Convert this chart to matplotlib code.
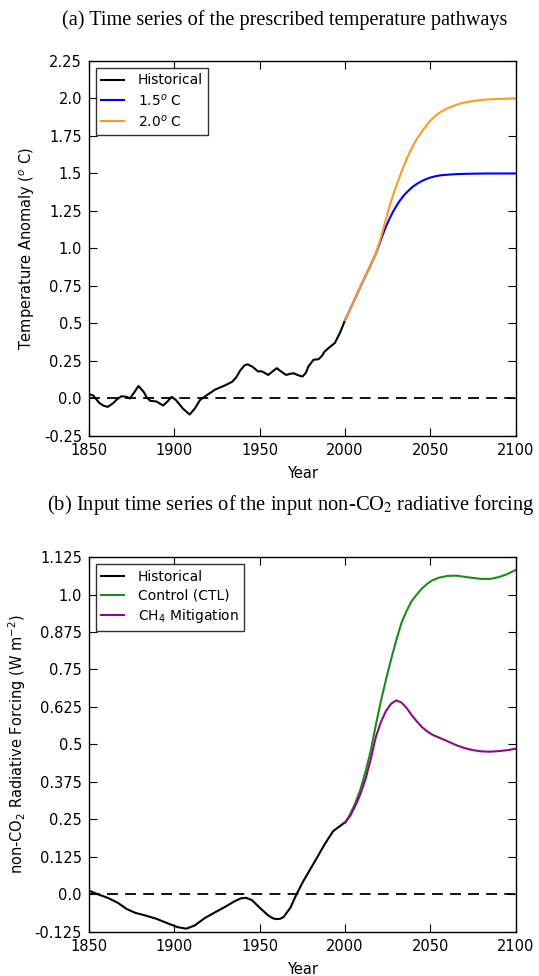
import matplotlib
matplotlib.use('Agg')
from matplotlib import pyplot as plt

# (a) temperature pathways
hist_t_years = [1850, 1852.5, 1856, 1858.5, 1861, 1864, 1866.5, 1869, 1872, 1874, 1876.5, 1879,
                1882, 1884, 1886, 1889.5, 1893.5, 1896, 1898.5, 1901, 1905, 1909, 1912, 1915,
                1919, 1924, 1930, 1934, 1936.5, 1938.5, 1941, 1943, 1946, 1949, 1951, 1953,
                1955, 1957.5, 1960, 1962.5, 1965.5, 1968, 1970, 1972.5, 1975, 1977, 1978.5,
                1981.5, 1984.5, 1986.5, 1988, 1992, 1994, 1997, 2000]
hist_t = [0.029, 0.02, -0.029, -0.048, -0.056, -0.033, -0.005, 0.015, 0.011, 0.0, 0.04, 0.083,
          0.045, 0.005, -0.016, -0.02, -0.047, -0.02, 0.011, -0.011, -0.067, -0.107, -0.067, -0.011,
          0.022, 0.06, 0.089, 0.112, 0.145, 0.185, 0.22, 0.228, 0.21, 0.18, 0.182, 0.17,
          0.157, 0.18, 0.202, 0.18, 0.157, 0.165, 0.168, 0.155, 0.146, 0.17, 0.213,
          0.258, 0.262, 0.285, 0.313, 0.352, 0.37, 0.437, 0.522]

fut_t_years = [2000, 2005, 2010, 2015, 2018, 2020, 2022, 2024, 2026, 2028, 2030, 2032, 2034,
               2036, 2038, 2040, 2042, 2045, 2048, 2050, 2053, 2056, 2060, 2064, 2068, 2072,
               2077, 2083, 2090, 2100]
t_15 = [0.522, 0.645, 0.77, 0.89, 0.965, 1.025, 1.09, 1.147, 1.198, 1.243, 1.283, 1.318, 1.348,
        1.373, 1.395, 1.415, 1.43, 1.45, 1.465, 1.473, 1.482, 1.488, 1.492, 1.495, 1.497, 1.498,
        1.499, 1.5, 1.5, 1.5]
t_20 = [0.522, 0.645, 0.77, 0.89, 0.965, 1.035, 1.115, 1.2, 1.28, 1.352, 1.417, 1.48, 1.54,
        1.596, 1.645, 1.69, 1.73, 1.78, 1.826, 1.853, 1.885, 1.91, 1.935, 1.953, 1.968, 1.978,
        1.987, 1.993, 1.997, 2.0]

# (b) non-CO2 radiative forcing
hist_rf_years = [1850, 1855.5, 1861, 1867, 1872, 1877, 1883, 1889.5, 1896.5, 1902, 1907, 1912,
                 1918, 1924, 1929.5, 1935.5, 1939, 1942, 1945.5, 1950, 1955, 1958, 1960, 1962,
                 1964, 1968, 1971.5, 1975.5, 1979.5, 1983, 1988, 1993, 1997, 2000]
hist_rf = [0.013, 0.0, -0.011, -0.028, -0.048, -0.061, -0.07, -0.081, -0.097, -0.109, -0.114, -0.103,
           -0.078, -0.059, -0.042, -0.022, -0.013, -0.011, -0.019, -0.044, -0.07, -0.08, -0.082, -0.081,
           -0.075, -0.044, 0.0, 0.044, 0.083, 0.117, 0.167, 0.211, 0.228, 0.241]

fut_rf_years = [2000, 2003, 2006, 2009, 2012, 2015, 2018, 2021, 2024, 2027, 2030, 2033, 2036,
                2039, 2042, 2045, 2048, 2051, 2055, 2060, 2065, 2070, 2075, 2080, 2085, 2090,
                2095, 2100]
rf_ctl = [0.239, 0.268, 0.305, 0.35, 0.41, 0.478, 0.565, 0.645, 0.717, 0.785, 0.848, 0.905, 0.945,
          0.978, 1.0, 1.02, 1.035, 1.047, 1.056, 1.062, 1.063, 1.059, 1.055, 1.052, 1.052, 1.058,
          1.068, 1.082]
rf_ch4 = [0.239, 0.262, 0.295, 0.335, 0.385, 0.45, 0.525, 0.575, 0.612, 0.636, 0.647, 0.64, 0.622,
          0.598, 0.577, 0.558, 0.544, 0.533, 0.523, 0.511, 0.498, 0.488, 0.481, 0.477, 0.476, 0.478,
          0.481, 0.486]

x_ticks = [1850, 1900, 1950, 2000, 2050, 2100]
t_ticks = [-0.25, 0.0, 0.25, 0.5, 0.75, 1.0, 1.25, 1.5, 1.75, 2.0, 2.25]
rf_ticks = [-0.125, 0.0, 0.125, 0.25, 0.375, 0.5, 0.625, 0.75, 0.875, 1.0, 1.125]

plt.rcParams['font.family'] = 'DejaVu Sans'
plt.rcParams['mathtext.fontset'] = 'dejavusans'

fig = plt.figure(figsize=(5.39, 9.76), dpi=100)
ax1 = fig.add_axes([0.165, 0.5533, 0.792, 0.3842])
ax2 = fig.add_axes([0.165, 0.0451, 0.792, 0.3842])


def style_axis(ax, yticks, ylabel, label_x):
    ax.set_xlim(1850, 2100)
    ax.set_ylim(yticks[0], yticks[-1])
    ax.set_xticks(x_ticks)
    ax.set_xticklabels([str(v) for v in x_ticks])
    ax.set_yticks(yticks)
    ax.set_yticklabels([str(v) for v in yticks])
    ax.tick_params(direction='in', length=6, width=0.8, top=True, right=True,
                   labelsize=10.5, pad=5)
    for s in ax.spines.values():
        s.set_linewidth(1.0)
    ax.axhline(0, color='black', ls='--', lw=1.3, dashes=(6, 4), zorder=1)
    ax.set_xlabel('Year', fontsize=10.5, labelpad=6)
    ax.set_ylabel(ylabel, fontsize=10.5)
    ax.yaxis.set_label_coords(label_x, 0.5)


ax1.plot(hist_t_years, hist_t, color='black', lw=1.5, label='Historical')
ax1.plot(fut_t_years, t_15, color='#0000ff', lw=1.5, label='1.5$^o$ C')
ax1.plot(fut_t_years, t_20, color='#ff9922', lw=1.5, label='2.0$^o$ C')
style_axis(ax1, t_ticks, 'Temperature Anomaly ($^o$ C)', -0.122)

ax2.plot(hist_rf_years, hist_rf, color='black', lw=1.5, label='Historical')
ax2.plot(fut_rf_years, rf_ctl, color='#1a8c1a', lw=1.5, label='Control (CTL)')
ax2.plot(fut_rf_years, rf_ch4, color='#8b0a8b', lw=1.5, label='CH$_4$ Mitigation')
style_axis(ax2, rf_ticks, 'non-CO$_2$ Radiative Forcing (W m$^{-2}$)', -0.143)

for ax in (ax1, ax2):
    leg = ax.legend(loc='upper left', fontsize=10, frameon=True, fancybox=False,
                    handlelength=1.6, handletextpad=1.0, labelspacing=0.35,
                    borderpad=0.4, borderaxespad=0.5)
    leg.get_frame().set_edgecolor('black')
    leg.get_frame().set_linewidth(1.0)

fig.text(62 / 539, 1 - 20 / 976, '(a) Time series of the prescribed temperature pathways',
         family='Liberation Serif', fontsize=14.6, ha='left', va='center')
fig.text(47 / 539, 1 - 505 / 976, '(b) Input time series of the input non-CO$_2$ radiative forcing',
         family='Liberation Serif', fontsize=14.8, ha='left', va='center',
         math_fontfamily='stix')

fig.savefig('out.png', dpi=100, facecolor='white')
